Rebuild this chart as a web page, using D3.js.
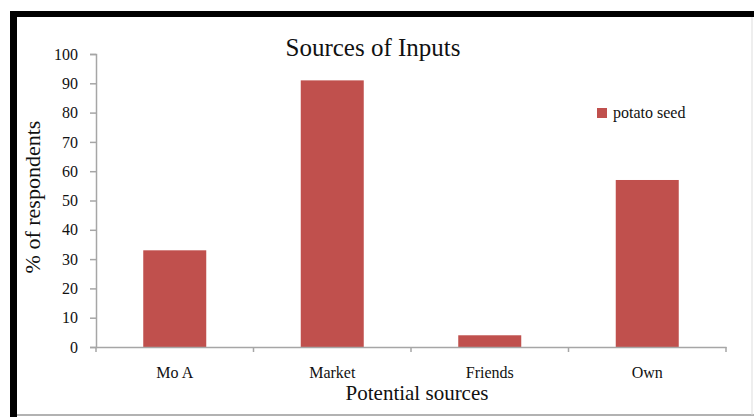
<!DOCTYPE html>
<html>
<head>
<meta charset="utf-8">
<script src="https://cdn.jsdelivr.net/npm/d3@7"></script>
<style>
  body { margin: 0; background: #fff; }
  text { font-family: "Liberation Serif", "Times New Roman", serif; fill: #111; }
</style>
</head>
<body>
<div id="chart"></div>
<script>
// data
var categories = ["Mo A", "Market", "Friends", "Own"];
var values = [33, 91, 4, 57];
var yTicks = [0, 10, 20, 30, 40, 50, 60, 70, 80, 90, 100];
var seriesName = "potato seed";

var W = 754, H = 417;
var svg = d3.select("#chart").append("svg").attr("width", W).attr("height", H);

// frame: black top and left, thin grey bottom and right
svg.append("rect").attr("x", 10).attr("y", 11).attr("width", W - 10).attr("height", 6).attr("fill", "#000");
svg.append("rect").attr("x", 10).attr("y", 11).attr("width", 7).attr("height", H - 11).attr("fill", "#000");
svg.append("line").attr("x1", 17).attr("x2", W).attr("y1", 415).attr("y2", 415).attr("stroke", "#999").attr("stroke-width", 1.5);
svg.append("line").attr("x1", 752).attr("x2", 752).attr("y1", 17).attr("y2", 415).attr("stroke", "#ddd").attr("stroke-width", 1);

var plotLeft = 96, plotRight = 726, plotTop = 54, plotBottom = 347;

var x = d3.scaleBand().domain(categories).range([plotLeft, plotRight]).padding(0);
var y = d3.scaleLinear().domain([0, 100]).range([plotBottom, plotTop]);

var axisColor = "#a6a6a6";

// y axis
var yAxis = svg.append("g").attr("transform", "translate(" + plotLeft + ",0)")
  .call(d3.axisLeft(y).tickValues(yTicks).tickSize(6).tickPadding(12));
yAxis.select(".domain").attr("stroke", axisColor).attr("stroke-width", 1.5);
yAxis.selectAll(".tick line").attr("stroke", axisColor).attr("stroke-width", 1.5);
yAxis.selectAll("text").style("font-family", "Liberation Serif, serif").style("font-size", "16px").attr("fill", "#111");

// bars
var barW = x.bandwidth() * 0.4;
svg.selectAll(".bar").data(values).enter().append("rect")
  .attr("class", "bar")
  .attr("x", function(d, i) { return x(categories[i]) + (x.bandwidth() - barW) / 2; })
  .attr("y", function(d) { return y(d); })
  .attr("width", barW)
  .attr("height", function(d) { return y(0) - y(d); })
  .attr("fill", "#c0504d");

// x axis
var xAxis = svg.append("g").attr("transform", "translate(0," + plotBottom + ")")
  .call(d3.axisBottom(x).tickSize(0).tickPadding(20));
xAxis.select(".domain").attr("stroke", axisColor).attr("stroke-width", 1.5);
xAxis.selectAll("text").style("font-family", "Liberation Serif, serif").style("font-size", "16px").attr("fill", "#111");
// category separators
var seps = categories.map(function(c) { return x(c); }).concat([plotRight]);
svg.selectAll(".sep").data(seps).enter().append("line")
  .attr("x1", function(d) { return d; }).attr("x2", function(d) { return d; })
  .attr("y1", plotBottom).attr("y2", plotBottom + 5)
  .attr("stroke", axisColor).attr("stroke-width", 1.5);

// title
svg.append("text").attr("x", 373).attr("y", 56).attr("text-anchor", "middle")
  .style("font-size", "25px").text("Sources of Inputs");

// axis titles
svg.append("text").attr("x", 417).attr("y", 400).attr("text-anchor", "middle")
  .style("font-size", "21px").text("Potential sources");
svg.append("text").attr("transform", "translate(40,197) rotate(-90)").attr("text-anchor", "middle")
  .style("font-size", "22px").text("% of respondents");

// legend
svg.append("rect").attr("x", 597).attr("y", 108).attr("width", 10).attr("height", 10).attr("fill", "#c0504d");
svg.append("text").attr("x", 613).attr("y", 118).style("font-size", "16px").text(seriesName);
</script>
</body>
</html>
